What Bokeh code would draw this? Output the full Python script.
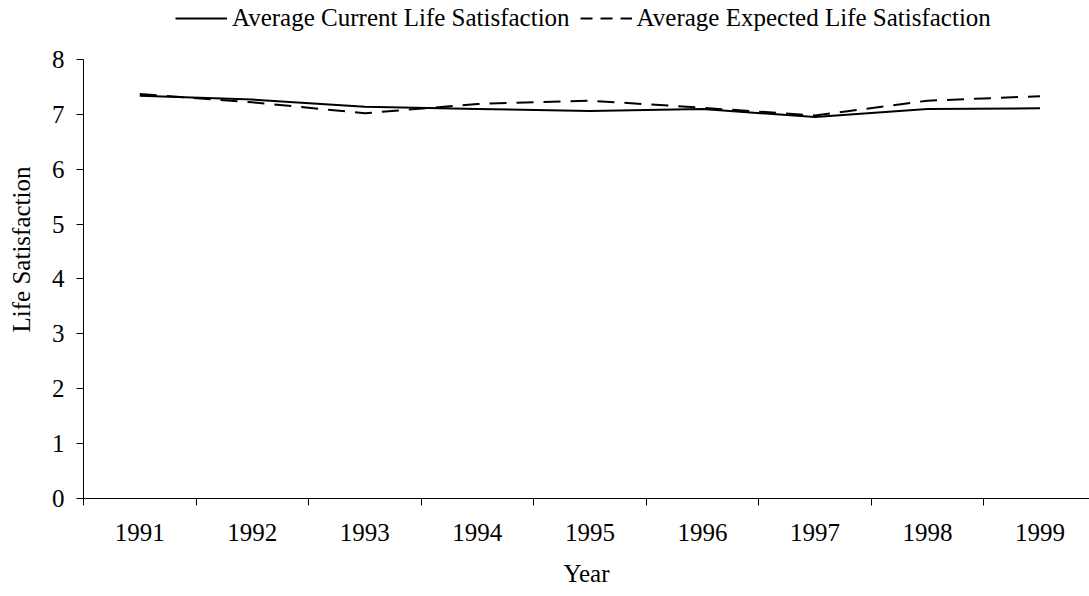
from bokeh.plotting import figure
from bokeh.models import Range1d, FixedTicker, Legend, LegendItem, GlobalInlineStyleSheet
from bokeh.embed import file_html
from bokeh.resources import INLINE

years = ["1991", "1992", "1993", "1994", "1995", "1996", "1997", "1998", "1999"]
current = [7.34, 7.27, 7.14, 7.10, 7.06, 7.10, 6.95, 7.10, 7.11]
expected = [7.37, 7.22, 7.02, 7.19, 7.25, 7.12, 6.98, 7.25, 7.33]
y_ticks = [0, 1, 2, 3, 4, 5, 6, 7, 8]
series_names = ["Average Current Life Satisfaction", "Average Expected Life Satisfaction"]

xs = list(range(len(years)))
FONT = "Liberation Serif"
FS = "25px"

p = figure(width=1089, height=596, output_backend="svg", toolbar_location=None,
           x_range=Range1d(-0.5, 8.44), y_range=Range1d(0, 9.075),
           min_border_left=83, min_border_right=0, min_border_top=0, min_border_bottom=98)
p.stylesheets = [GlobalInlineStyleSheet(css="html, body { overflow: hidden; }")]
p.outline_line_color = None
p.xgrid.visible = False
p.ygrid.visible = False
p.background_fill_color = "white"
p.border_fill_color = "white"

r1 = p.line(xs, current, line_color="black", line_width=2)
r2 = p.line(xs, expected, line_color="black", line_width=2, line_dash="17 10")
# legend swatch for the dashed series (Excel draws shorter dashes in the key); no visible data
r2_key = p.line(xs, [float("nan")] * len(xs), line_color="black", line_width=2, line_dash="12 8")

xa = p.xaxis[0]
xa.ticker = FixedTicker(ticks=xs, minor_ticks=[i - 0.5 for i in range(len(years) + 1)])
xa.major_label_overrides = {i: y for i, y in enumerate(years)}
xa.major_tick_out = 0
xa.major_tick_in = 0
xa.minor_tick_out = 7
xa.minor_tick_in = 0
xa.minor_tick_line_color = "black"
xa.major_label_standoff = 18
xa.axis_label = "Year"
xa.axis_label_standoff = 16

ya = p.yaxis[0]
ya.ticker = FixedTicker(ticks=y_ticks)
ya.bounds = (0, 8)
ya.major_tick_out = 7
ya.major_tick_in = 0
ya.minor_tick_out = 0
ya.minor_tick_in = 0
ya.major_label_standoff = 12
ya.axis_label = "Life Satisfaction"
ya.axis_label_standoff = 14

for ax in (xa, ya):
    ax.axis_line_color = "black"
    ax.major_tick_line_color = "black"
    ax.major_label_text_font = FONT
    ax.major_label_text_font_size = FS
    ax.major_label_text_color = "black"
    ax.axis_label_text_font = FONT
    ax.axis_label_text_font_size = FS
    ax.axis_label_text_font_style = "normal"
    ax.axis_label_text_color = "black"

legend = Legend(items=[LegendItem(label=series_names[0], renderers=[r1]),
                       LegendItem(label=series_names[1], renderers=[r2_key])],
                orientation="horizontal", location=(92, 466),
                label_text_font=FONT, label_text_font_size=FS, label_text_color="black",
                glyph_width=52, glyph_height=20, label_standoff=5, spacing=10,
                padding=0, margin=0, border_line_color=None, background_fill_alpha=0)
p.add_layout(legend, "center")

open("out.html", "w").write(file_html(p, INLINE))
